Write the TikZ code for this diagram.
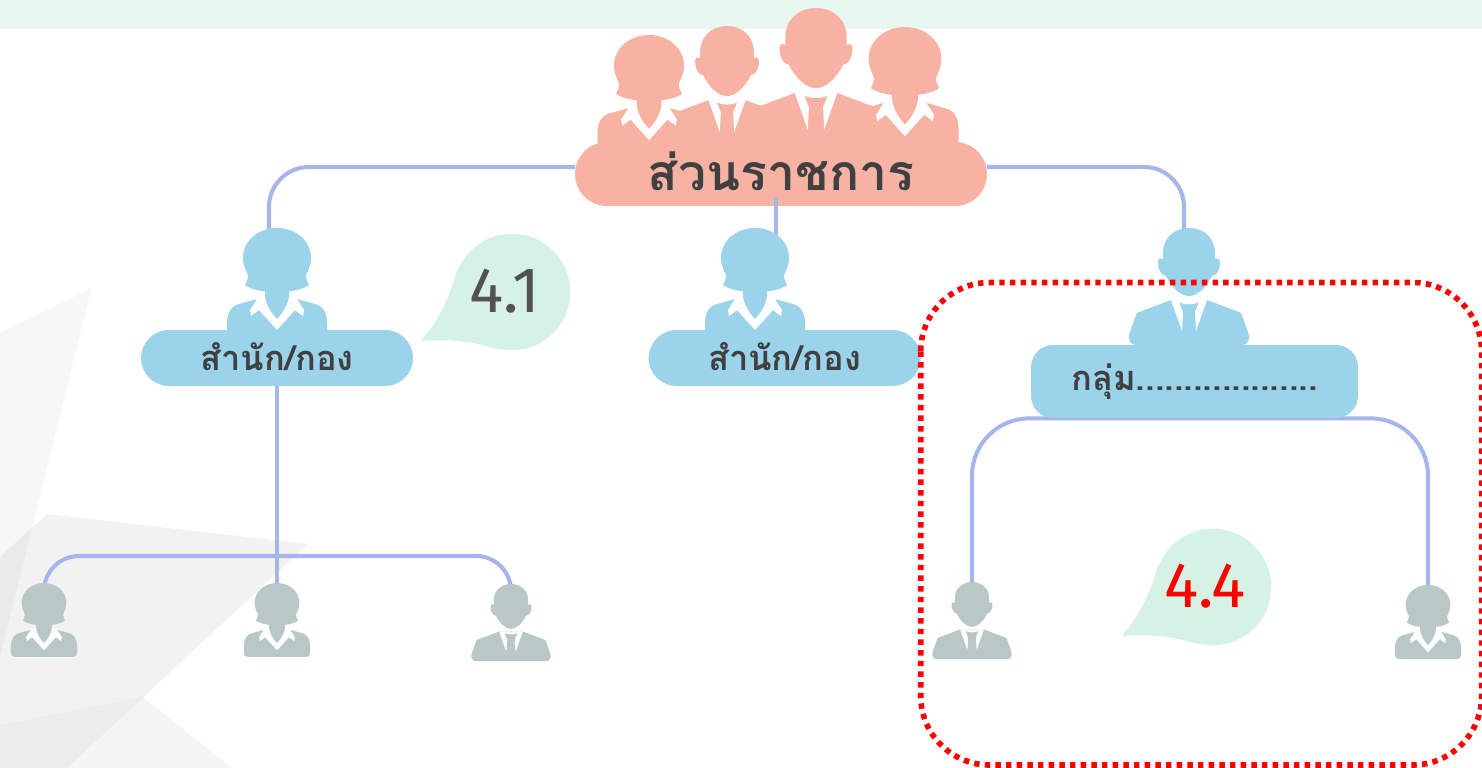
\documentclass[tikz,border=0pt]{standalone}
\usepackage{fontspec}
\usetikzlibrary{positioning,backgrounds}
\newfontfamily\thaifont[Script=Thai]{Loma}
\newfontfamily\numfont{Fira Sans}

\definecolor{topband}{HTML}{E8F7F0}
\definecolor{linkcol}{HTML}{A6B5EA}
\definecolor{rootcol}{HTML}{F8B2A4}
\definecolor{seccol}{HTML}{9BD3EB}
\definecolor{staffcol}{HTML}{BAC7C7}
\definecolor{bubblecol}{HTML}{D6F2E4}
\definecolor{textcol}{HTML}{404040}

\tikzset{
  x=0.02cm, y=-0.02cm,
  link/.style={draw=linkcol, line width=2.3pt},
  rootbox/.style={rectangle, fill=rootcol, rounded corners=.64cm, minimum width=8.24cm,
    minimum height=1.28cm, inner sep=0pt, text=textcol, font=\thaifont\bfseries\fontsize{28.4}{32}\selectfont},
  secbox/.style={rectangle, fill=seccol, rounded corners=.56cm, minimum width=5.44cm,
    minimum height=1.12cm, inner sep=0pt, text=textcol, font=\thaifont\bfseries\fontsize{19.6}{22}\selectfont},
  numlabel/.style={inner sep=0pt, font=\numfont\fontsize{36.5}{40}\selectfont},
  woman/.pic={
    \coordinate (-head) at (0,0);
    \fill[#1] (-20,71) -- (-38,76) .. controls (-46,78) and (-50,85) .. (-50,95)
      -- (-50,106) .. controls (-50,110) and (-48,112) .. (-44,112) -- (44,112)
      .. controls (48,112) and (50,110) .. (50,106) -- (50,95)
      .. controls (50,85) and (46,78) .. (38,76) -- (20,71) -- cycle;
    \fill[white] (-20,71) -- (-27,82) -- (-26,88) -- (-18,82) -- (0,102) -- (18,82)
      -- (26,88) -- (27,82) -- (20,71) -- (12,66) -- (-12,66) -- cycle;
    \fill[#1] (-12,62) -- (-12,68) .. controls (-11,76) and (-6,85) .. (0,91)
      .. controls (6,85) and (11,76) .. (12,68) -- (12,62) -- cycle;
    \fill[#1] (-32,57) .. controls (-30,54) and (-29,51) .. (-29,47)
      .. controls (-32,41) and (-34,36) .. (-34,30)
      .. controls (-34,13) and (-19,0) .. (0,0) .. controls (19,0) and (34,13) .. (34,30)
      .. controls (34,36) and (32,41) .. (29,47)
      .. controls (29,51) and (30,54) .. (32,57) .. controls (26,62) and (12,64) .. (0,64)
      .. controls (-12,64) and (-26,62) .. (-32,57) -- cycle;
  },
  man/.pic={
    \coordinate (-head) at (0,0);
    \fill[#1] (-18,72) -- (-50,84) .. controls (-52,85) and (-53,86) .. (-53,87)
      -- (-60,107) .. controls (-61,112) and (-58,117) .. (-53,117) -- (53,117)
      .. controls (58,117) and (61,112) .. (60,107) -- (53,87)
      .. controls (53,86) and (52,85) .. (50,84) -- (18,72) -- cycle;
    \fill[white] (-18,72) -- (-7,103) -- (-6,84) -- (-10,74) .. controls (-5,77) and (5,77) .. (10,74)
      -- (6,84) -- (7,103) -- (18,72) -- cycle;
    \fill[#1] (0,0) .. controls (-15,0) and (-26,10) .. (-26,25) -- (-26,31)
      .. controls (-29,30) and (-31,31) .. (-31,34) .. controls (-31,40) and (-29,47) .. (-23,48)
      .. controls (-17,60) and (-8,68) .. (0,68) .. controls (8,68) and (17,60) .. (23,48)
      .. controls (29,47) and (31,40) .. (31,34) .. controls (31,31) and (29,30) .. (26,31)
      -- (26,25) .. controls (26,10) and (15,0) .. (0,0) -- cycle;
  },
  bubble/.pic={
    \fill[bubblecol] (0,0) circle[radius=58.3];
    \fill[bubblecol] (-90,47) .. controls (-72,28) and (-62,3) .. (-55,-22) -- (0,0) -- (-15,57)
      .. controls (-30,53) and (-50,46) .. (-90,49) -- cycle;
  }
}

\begin{document}
\begin{tikzpicture}
  \useasboundingbox (0,0) rectangle (1482,768);

  % page decoration
  \begin{scope}[on background layer]
    \fill[topband] (0,0) rectangle (1482,29);
    \fill[black, fill opacity=.03] (92,288) -- (0,333) -- (0,657) -- cycle;
    \fill[black, fill opacity=.05] (47,514) -- (308,544) -- (67,768) -- (0,768) -- (0,557) -- cycle;
    \fill[black, fill opacity=.025] (143,697) -- (0,725) -- (0,768) -- (67,768) -- cycle;
    \fill[black, fill opacity=.04] (143,697) -- (232,768) -- (67,768) -- cycle;
  \end{scope}

  % top group, men first so the collars stay on top
  \pic[scale=1.18] (rootB) at (816,8) {man={fill=rootcol}};
  \pic[scale=1.03] (rootC) at (727,26) {man={fill=rootcol}};
  \pic[scale=1.03] (rootA) at (649,35) {woman={fill=rootcol}};
  \pic[scale=1.07] (rootD) at (905,27) {woman={fill=rootcol}};
  \node[rootbox] (root) at (781,174) {\raisebox{3.2pt}{ส่วนราชการ}};

  % second row
  \pic (figL) at (277,228) {woman={fill=seccol}};
  \node[secbox] (secL) at (277,358) {\raisebox{1.5pt}{สำนัก/กอง}};
  \node[secbox, right=4.7cm of secL] (secM) {\raisebox{1.5pt}{สำนัก/กอง}};
  \coordinate (rootS) at (776,197);
  \coordinate (headM) at (776,240);
  \draw[link] (rootS) -- (headM);
  \pic (figM) at (755,228) {woman={fill=seccol}};
  \pic (figR) at (1189,228) {man={fill=seccol}};
  \node[secbox, rounded corners=.44cm, minimum width=6.54cm, minimum height=1.46cm] (grpR) at (1194.5,381.5) {กลุ่ม...................};

  % third row
  \pic[scale=.66] (staffA) at (44,583) {woman={fill=staffcol}};
  \pic[scale=.66] (staffB) at (277,583) {woman={fill=staffcol}};
  \pic[scale=.66] (staffC) at (511,584) {man={fill=staffcol}};
  \pic[scale=.66] (staffD) at (972,582) {man={fill=staffcol}};
  \pic[scale=.66] (staffE) at (1428,585) {woman={fill=staffcol}};

  % speech bubbles
  \pic at (512,292) {bubble};
  \node[numlabel, text=black!68] (numA) at (505,291) {4.1};
  \pic at (1213,587) {bubble};
  \node[numlabel, text=red] (numB) at (1205,586) {4.4};

  % connectors stay behind the figures
  \coordinate (rootW) at (575,167);
  \coordinate (rootE) at (987,167);
  \coordinate (headL) at (269,235);
  \coordinate (headR) at (1184,235);
  \coordinate (joint) at (276,556);
  \begin{scope}[on background layer]
    \draw[link, rounded corners=.8cm] (rootW) -| (headL);
    \draw[link, rounded corners=.8cm] (rootE) -| (headR);
    \draw[link] (secL.south) -- (secL.south |- staffB-head);
    \draw[link, rounded corners=.7cm] (staffA-head) |- (joint) -| (staffC-head);
    \draw[link, rounded corners=1.15cm] (staffD-head) |- (grpR.south) -| (staffE-head);
  \end{scope}

  % dotted frame
  \draw[red, line width=3.2pt, dash pattern=on 3.1pt off 2.97pt, rounded corners=1.38cm]
    (920.7,282.5) rectangle (1481.6,765);
\end{tikzpicture}
\end{document}
